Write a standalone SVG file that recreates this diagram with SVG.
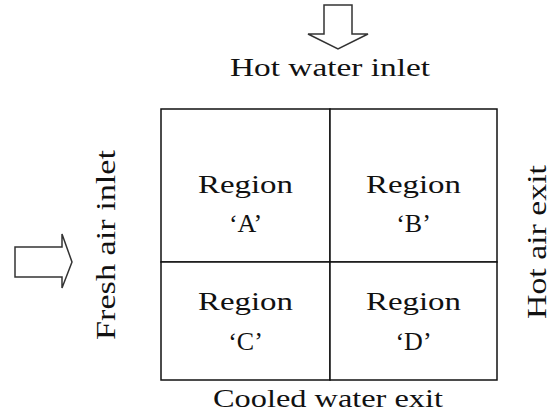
<svg xmlns="http://www.w3.org/2000/svg" width="548" height="417" viewBox="0 0 548 417">
<style>
.t{font-family:"Liberation Serif","Times New Roman",serif;fill:#111;}
.lbl{font-size:25px;}
.vl{font-size:27px;}
.reg{font-size:26px;text-anchor:middle;}
.cell{fill:#fff;stroke:#111;stroke-width:1.5;}
.arr{fill:#fff;stroke:#333;stroke-width:1.5;stroke-linejoin:miter;}
</style>
<rect width="548" height="417" fill="#fff"/>
<g id="connectors">
<polygon class="arr" points="324,5 352,5 352,34 368,34 338,49 308,34 324,34"/>
<polygon class="arr" points="15,247 62,247 62,234 72,262 62,288 62,277 15,277"/>
</g>
<g id="regionA">
<rect class="cell" x="161" y="109" width="169" height="153"/>
<text class="t reg" x="245.5" y="193" textLength="95" lengthAdjust="spacingAndGlyphs">Region</text>
<text class="t reg" x="245.5" y="232">‘A’</text>
</g>
<g id="regionB">
<rect class="cell" x="330" y="109" width="167" height="153"/>
<text class="t reg" x="413.5" y="193" textLength="95" lengthAdjust="spacingAndGlyphs">Region</text>
<text class="t reg" x="413.5" y="232">‘B’</text>
</g>
<g id="regionC">
<rect class="cell" x="161" y="262" width="169" height="118"/>
<text class="t reg" x="245.5" y="310" textLength="95" lengthAdjust="spacingAndGlyphs">Region</text>
<text class="t reg" x="245.5" y="350">‘C’</text>
</g>
<g id="regionD">
<rect class="cell" x="330" y="262" width="167" height="118"/>
<text class="t reg" x="413.5" y="310" textLength="95" lengthAdjust="spacingAndGlyphs">Region</text>
<text class="t reg" x="413.5" y="350">‘D’</text>
</g>
<g id="labels">
<text class="t lbl" x="230" y="76" textLength="200" lengthAdjust="spacingAndGlyphs">Hot water inlet</text>
<text class="t lbl" x="213" y="407" textLength="230" lengthAdjust="spacingAndGlyphs">Cooled water exit</text>
<text class="t vl" transform="translate(115,340) rotate(-90)" textLength="190" lengthAdjust="spacingAndGlyphs">Fresh air inlet</text>
<text class="t vl" transform="translate(546,319) rotate(-90)" textLength="154" lengthAdjust="spacingAndGlyphs">Hot air exit</text>
</g>
</svg>
